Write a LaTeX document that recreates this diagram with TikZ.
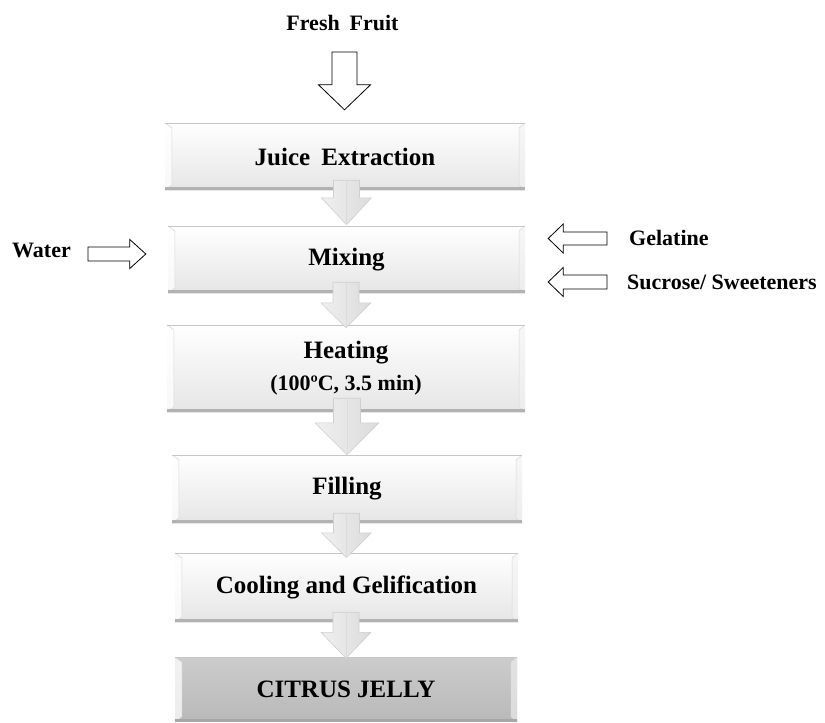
\documentclass[tikz,border=0pt]{standalone}
\usepackage{fontspec}
\setmainfont{Liberation Serif}
\usetikzlibrary{calc}
\newcommand\blockarrow[6]{%
  \coordinate (tmpH) at ($(#3)!#6!(#2)$);
  \draw[#1] ($(#2)!#4!90:(#3)$) -- ($(tmpH)!#4!90:(#3)$) -- ($(tmpH)!#5!90:(#3)$) -- (#3)
    -- ($(tmpH)!#5!-90:(#3)$) -- ($(tmpH)!#4!-90:(#3)$) -- ($(#2)!#4!-90:(#3)$) -- cycle;
}
\newcommand\ridge[2]{% shaft top, tip
  \draw[gray!28, line width=0.6pt] (#1) -- (#2);
}
\newcommand\bevel[3]{% node, inner line colour, bottom band colour
  \fill[white,opacity=0.75] (#1.north west) -- ($(#1.north west)+(7pt,-5pt)$) -- ($(#1.south west)+(7pt,5pt)$) -- (#1.south west) -- cycle;
  \draw[#2, line width=0.6pt] (#1.north west) -- ($(#1.north west)+(7pt,-5pt)$) -- ($(#1.south west)+(7pt,5pt)$) -- (#1.south west);
  \fill[gray!10,opacity=0.6] (#1.north east) -- ($(#1.north east)+(-6pt,-5pt)$) -- ($(#1.south east)+(-6pt,5pt)$) -- (#1.south east) -- cycle;
  \draw[#2, line width=0.5pt] (#1.north east) -- ($(#1.north east)+(-6pt,-5pt)$) -- ($(#1.south east)+(-6pt,5pt)$) -- (#1.south east);
  \draw[gray!45, line width=1pt] ($(#1.north west)+(0,-0.5pt)$) -- ($(#1.north east)+(0,-0.5pt)$);
  \draw[#3, line width=3pt] ($(#1.south west)+(0,1.5pt)$) -- ($(#1.south east)+(0,1.5pt)$);
}
\tikzset{
  box/.style={inner sep=0pt, top color=white, bottom color=gray!20, text=black,
    font=\fontsize{25}{30}\selectfont\bfseries, align=center},
  darkbox/.style={inner sep=0pt, top color=gray!40, bottom color=gray!55, text=black,
    font=\fontsize{25}{30}\selectfont\bfseries, align=center},
  lbl/.style={inner sep=0pt, font=\fontsize{22}{26}\selectfont\bfseries},
  hollow/.style={draw=black, fill=white, line width=0.8pt, line join=miter},
  flowarrow/.style={draw=gray!38, line width=0.6pt, left color=gray!12, middle color=white, right color=gray!28, line join=miter},
}
\begin{document}
\begin{tikzpicture}[x=1pt,y=-1pt]
\useasboundingbox (0,0) rectangle (825,723);

% process boxes
\node[box, minimum width=360pt, minimum height=67pt] (juice) at (345,156.5) {Juice\hspace{0.2em} Extraction};
\node[box, minimum width=357pt, minimum height=67pt] (mixing) at (346.5,259.5) {Mixing};
\node[box, minimum width=358pt, minimum height=87pt] (heating) at (346,368.5)
  {Heating\\[2pt]{\fontsize{22}{26}\selectfont (100ºC, 3.5 min)}};
\node[box, minimum width=350pt, minimum height=68pt] (filling) at (347,489) {Filling};
\node[box, minimum width=343pt, minimum height=69pt] (cooling) at (346.5,587.5) {Cooling and Gelification};
\node[darkbox, minimum width=342pt, minimum height=64pt] (citrus) at (346,689.5) {CITRUS JELLY};

\bevel{juice}{gray!30}{gray!60}
\bevel{mixing}{gray!30}{gray!60}
\bevel{heating}{gray!30}{gray!60}
\bevel{filling}{gray!30}{gray!60}
\bevel{cooling}{gray!30}{gray!60}
\bevel{citrus}{gray!25}{gray!70}

% labels
\node[lbl] (fresh) at (342.5,23) {Fresh\hspace{0.2em} Fruit};
\node[lbl] (water) at (41.5,250) {Water};
\node[lbl, anchor=west] (gel) at (629,238) {Gelatine};
\node[lbl, anchor=west] (sucr) at (627,282) {Sucrose/ Sweeteners};

% hollow input arrows
\coordinate (ft) at ($(fresh.center)+(2pt,-29pt)$);
\coordinate (fb) at ($(juice.north)+(0,13pt)$);
\blockarrow{hollow}{ft |- ft}{fb -| ft}{12.5pt}{26pt}{25pt}

\coordinate (wt) at ($(water.east)+(17pt,-4pt)$);
\coordinate (wb) at ($(mixing.west |- wt)+(-22pt,0)$);
\blockarrow{hollow}{wt}{wb}{7pt}{14.5pt}{16pt}

\coordinate (gt) at ($(gel.west)+(-22pt,-0.5pt)$);
\coordinate (gb) at ($(mixing.east |- gt)+(23pt,0)$);
\blockarrow{hollow}{gt}{gb}{6.5pt}{14.5pt}{15pt}

\coordinate (st) at ($(sucr.west)+(-20pt,0)$);
\coordinate (sb) at ($(mixing.east |- st)+(23pt,0)$);
\blockarrow{hollow}{st}{sb}{7pt}{14.5pt}{15pt}

% 3D flow arrows between steps
\coordinate (a1t) at ($(juice.south)+(1pt,10pt)$);
\coordinate (a1b) at ($(mixing.north)+(0,1pt)$);
\blockarrow{flowarrow}{a1b |- a1t}{a1b}{13pt}{25pt}{27pt}
\ridge{a1b |- a1t}{a1b}

\coordinate (a2t) at ($(mixing.south)+(0,11pt)$);
\coordinate (a2b) at ($(heating.north)+(0,-3pt)$);
\blockarrow{flowarrow}{a2b |- a2t}{a2b}{13pt}{25pt}{25pt}
\ridge{a2b |- a2t}{a2b}

\coordinate (a3t) at ($(heating.south)+(0,14pt)$);
\coordinate (a3b) at ($(filling.north)+(0,0)$);
\blockarrow{flowarrow}{a3b |- a3t}{a3b}{13.5pt}{32pt}{32pt}
\ridge{a3b |- a3t}{a3b}

\coordinate (a4t) at ($(filling.south)+(0,10pt)$);
\coordinate (a4b) at ($(cooling.north)+(0,-5pt)$);
\blockarrow{flowarrow}{a4b |- a4t}{a4b}{13pt}{25pt}{25pt}
\ridge{a4b |- a4t}{a4b}

\coordinate (a5t) at ($(cooling.south)+(0,10pt)$);
\coordinate (a5b) at ($(citrus.north)+(0,-1pt)$);
\blockarrow{flowarrow}{a5b |- a5t}{a5b}{13pt}{25pt}{26pt}
\ridge{a5b |- a5t}{a5b}
\end{tikzpicture}
\end{document}
